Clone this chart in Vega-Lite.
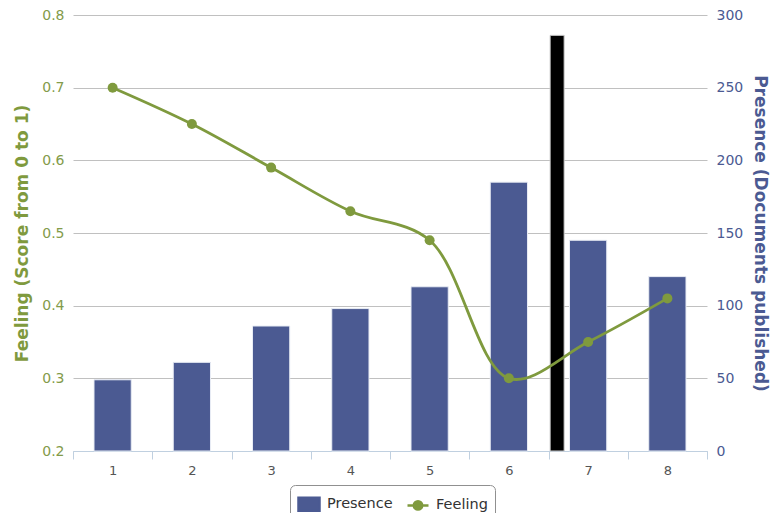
{
  "$schema": "https://vega.github.io/schema/vega-lite/v6.json",
  "width": 634,
  "height": 436,
  "autosize": "none",
  "padding": {"left": 73, "top": 15, "right": 63, "bottom": 62},
  "background": "white",
  "config": {"view": {"stroke": null}, "font": "DejaVu Sans"},
  "datasets": {
    "main": [
      {"period": "1", "presence": 49, "feeling": 0.70},
      {"period": "2", "presence": 61, "feeling": 0.65},
      {"period": "3", "presence": 86, "feeling": 0.59},
      {"period": "4", "presence": 98, "feeling": 0.53},
      {"period": "5", "presence": 113, "feeling": 0.49},
      {"period": "6", "presence": 185, "feeling": 0.30},
      {"period": "7", "presence": 145, "feeling": 0.35},
      {"period": "8", "presence": 120, "feeling": 0.41}
    ],
    "marker": [
      {"period": "7", "value": 286}
    ]
  },
  "layer": [
    {
      "data": {"name": "main"},
      "mark": {"type": "bar", "width": {"band": 0.47}, "stroke": "#e8ecf4", "strokeWidth": 1},
      "encoding": {
        "x": {
          "field": "period", "type": "ordinal",
          "scale": {"paddingInner": 0, "paddingOuter": 0},
          "axis": {
            "title": null, "labelAngle": 0, "tickBand": "extent", "grid": false,
            "domainColor": "#c0d0e0", "tickColor": "#c0d0e0", "tickSize": 8,
            "labelColor": "#555555", "labelFontSize": 13, "labelPadding": 5
          }
        },
        "y": {
          "field": "presence", "type": "quantitative",
          "scale": {"domain": [0, 300], "nice": false},
          "axis": {
            "orient": "right", "values": [0, 50, 100, 150, 200, 250, 300],
            "grid": false, "domain": false, "ticks": false,
            "labelColor": "#4b5a92", "labelFontSize": 14, "labelPadding": 9,
            "title": "Presence (Documents published)", "titleColor": "#4b5a92",
            "titleFontSize": 17, "titleFontWeight": "bold", "titlePadding": 8
          }
        },
        "color": {
          "datum": "Presence", "type": "nominal",
          "scale": {"domain": ["Presence", "Feeling"], "range": ["#4b5a92", "#7f9a3e"]},
          "legend": {
            "orient": "none", "legendX": 217, "legendY": 470,
            "direction": "horizontal", "title": null,
            "strokeColor": "#909090", "cornerRadius": 5, "padding": 7,
            "labelFontSize": 14.5, "labelColor": "#333333", "labelOffset": 6,
            "symbolSize": 441, "columnPadding": 9,
            "encode": {
              "symbols": {
                "update": {
                  "shape": {"signal": "datum.value === 'Presence' ? 'M-1,-0.62H1V0.62H-1Z' : 'M-1,0H1M-0.4,0A0.4,0.4 0 1,0 0.4,0A0.4,0.4 0 1,0 -0.4,0'"},
                  "stroke": {"signal": "datum.value === 'Presence' ? '#4b5a92' : '#7f9a3e'"},
                  "strokeWidth": {"value": 2.5}
                }
              }
            }
          }
        }
      }
    },
    {
      "data": {"name": "marker"},
      "mark": {"type": "bar", "width": 14, "xOffset": -31, "fill": "#000000", "stroke": "#cccccc", "strokeWidth": 1},
      "encoding": {
        "x": {"field": "period", "type": "ordinal"},
        "y": {
          "field": "value", "type": "quantitative",
          "scale": {"domain": [0, 300], "nice": false},
          "axis": null
        }
      }
    },
    {
      "data": {"name": "main"},
      "mark": {
        "type": "line", "interpolate": "catmull-rom", "strokeWidth": 2.8,
        "point": {"filled": true, "size": 100}
      },
      "encoding": {
        "x": {"field": "period", "type": "ordinal"},
        "y": {
          "field": "feeling", "type": "quantitative",
          "scale": {"domain": [0.2, 0.8], "nice": false, "zero": false},
          "axis": {
            "orient": "left", "values": [0.2, 0.3, 0.4, 0.5, 0.6, 0.7, 0.8], "format": ".1f",
            "grid": true, "gridColor": "#c0c0c0", "gridWidth": 1,
            "domain": false, "ticks": false,
            "labelColor": "#839b4a", "labelFontSize": 14, "labelPadding": 9,
            "title": "Feeling (Score from 0 to 1)", "titleColor": "#7f9a3e",
            "titleFontSize": 17, "titleFontWeight": "bold", "titlePadding": 10
          }
        },
        "color": {
          "datum": "Feeling", "type": "nominal",
          "legend": {
            "orient": "none", "legendX": 217, "legendY": 470,
            "direction": "horizontal", "title": null,
            "strokeColor": "#909090", "cornerRadius": 5, "padding": 7,
            "labelFontSize": 14.5, "labelColor": "#333333", "labelOffset": 6,
            "symbolSize": 441, "columnPadding": 9,
            "encode": {
              "symbols": {
                "update": {
                  "shape": {"signal": "datum.value === 'Presence' ? 'M-1,-0.62H1V0.62H-1Z' : 'M-1,0H1M-0.4,0A0.4,0.4 0 1,0 0.4,0A0.4,0.4 0 1,0 -0.4,0'"},
                  "stroke": {"signal": "datum.value === 'Presence' ? '#4b5a92' : '#7f9a3e'"},
                  "strokeWidth": {"value": 2.5}
                }
              }
            }
          }
        }
      }
    }
  ],
  "resolve": {"scale": {"y": "independent"}, "axis": {"y": "independent"}}
}
